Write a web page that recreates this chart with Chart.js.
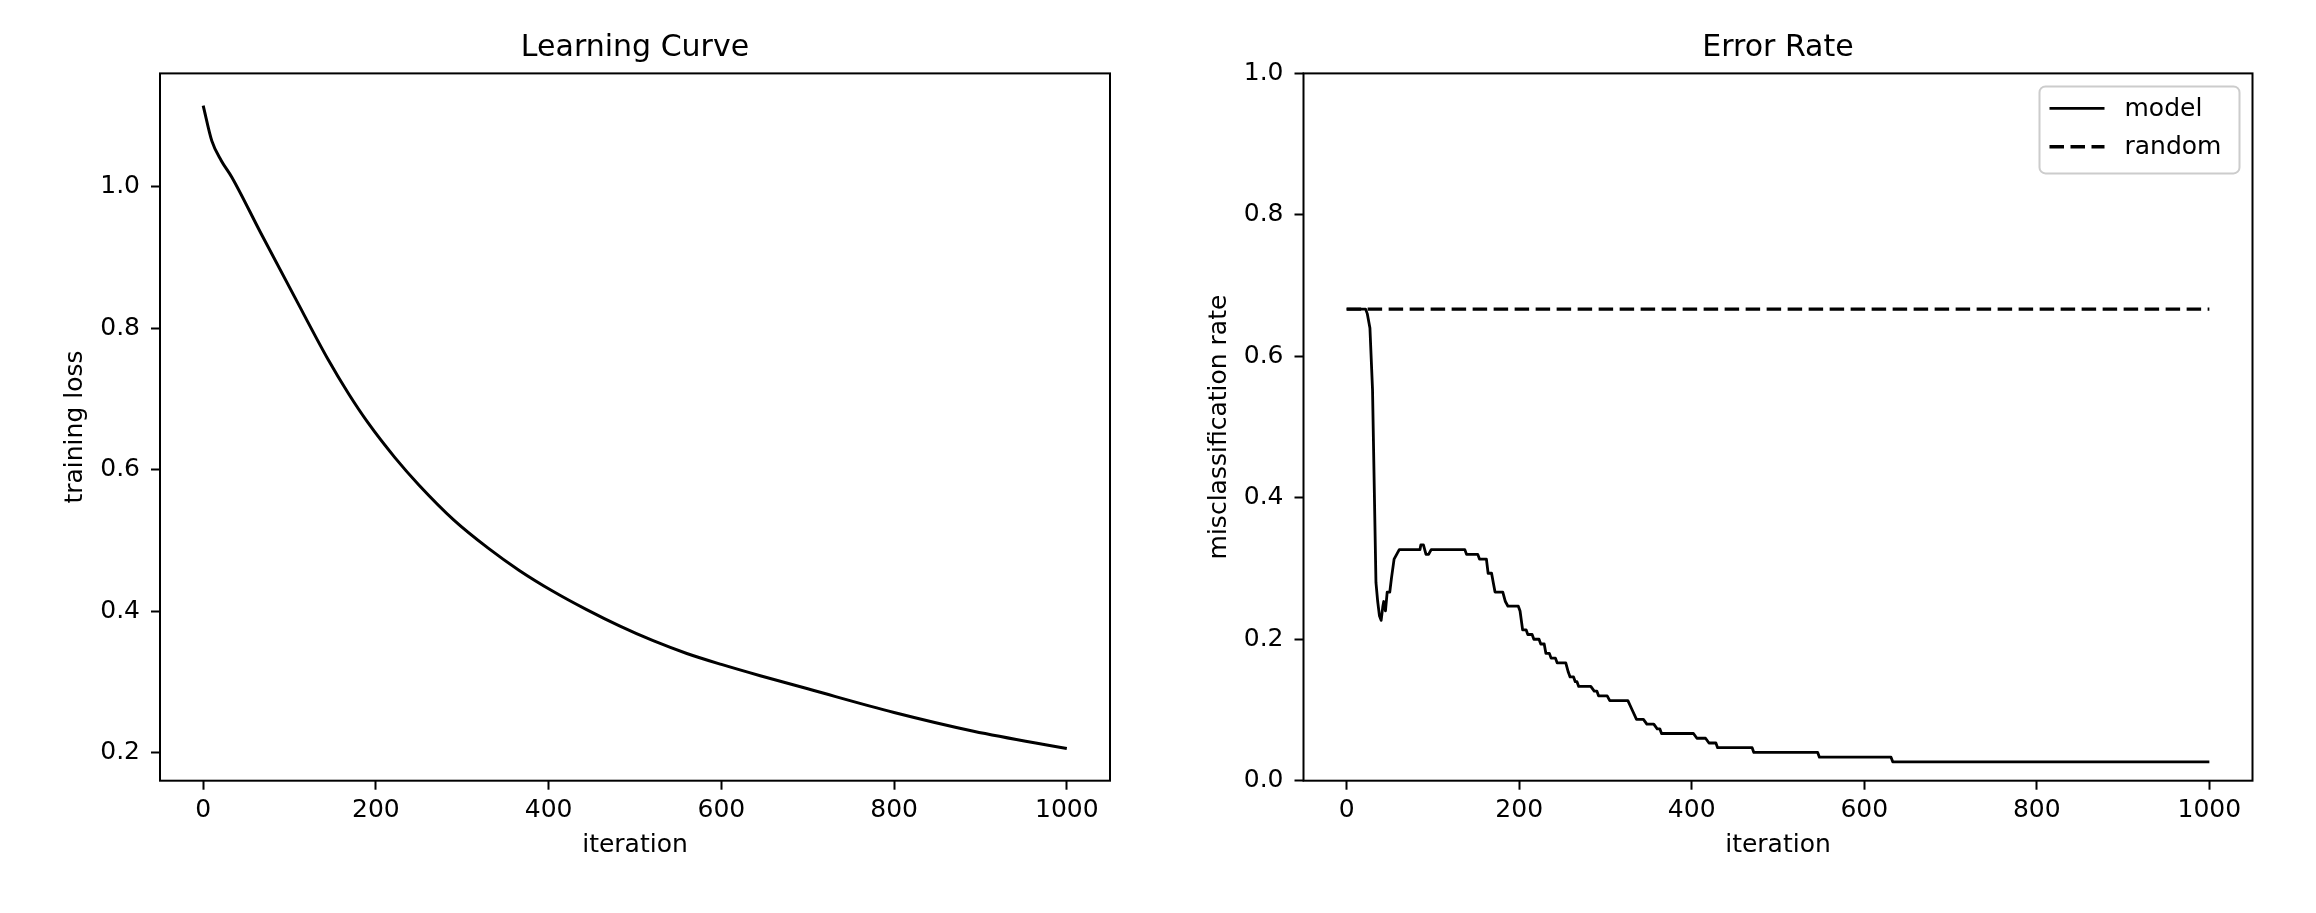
<!DOCTYPE html>
<html><head><meta charset="utf-8">
<script src="https://cdn.jsdelivr.net/npm/chart.js@4"></script>
<style>
html,body{margin:0;padding:0;background:#fff;overflow:hidden;width:2316px;height:913px;}
canvas{position:absolute;top:0;}
#c1{left:0;} #c2{left:1160px;}
</style></head><body>
<canvas id="c1" width="1160" height="913"></canvas>
<canvas id="c2" width="1156" height="913"></canvas>
<script>
// ---- data ----
const lossIter  = [0, 10, 21, 33, 67, 106, 145, 168, 191, 222, 250, 290, 330, 366, 405, 444, 482, 521, 560, 600, 645, 700, 800, 892, 1000];
const lossValue = [1.115, 1.065, 1.037, 1.014, 0.934, 0.844, 0.755, 0.708, 0.666, 0.617, 0.578, 0.529, 0.489, 0.4575, 0.428, 0.402, 0.379, 0.358, 0.340, 0.3245, 0.3085, 0.2900, 0.2565, 0.230, 0.2055];

const modelIter = [0, 22, 24, 27, 30, 34, 36, 38, 40, 42, 43, 45, 47, 50, 52, 55, 58, 61, 85, 86, 89, 92, 95, 98, 137, 139, 152, 154, 162, 164, 168, 170, 172, 181, 184, 187, 199, 201, 202, 204, 208, 210, 215, 217, 223, 225, 229, 231, 235, 237, 242, 244, 254, 257, 259, 263, 265, 267, 269, 283, 287, 290, 292, 302, 305, 326, 331, 336, 344, 348, 356, 360, 363, 365, 402, 406, 416, 420, 428, 430, 470, 472, 546, 548, 631, 633, 1000];
const modelRate = [0.6667, 0.6667, 0.66, 0.64, 0.5533, 0.28, 0.2533, 0.2333, 0.2267, 0.2467, 0.2533, 0.24, 0.2667, 0.2667, 0.2867, 0.3133, 0.32, 0.3267, 0.3267, 0.3333, 0.3333, 0.32, 0.32, 0.3267, 0.3267, 0.32, 0.32, 0.3133, 0.3133, 0.2933, 0.2933, 0.28, 0.2667, 0.2667, 0.2533, 0.2467, 0.2467, 0.24, 0.24, 0.2133, 0.2133, 0.2067, 0.2067, 0.2, 0.2, 0.1933, 0.1933, 0.18, 0.18, 0.1733, 0.1733, 0.1667, 0.1667, 0.1533, 0.1467, 0.1467, 0.14, 0.14, 0.1333, 0.1333, 0.1267, 0.1267, 0.12, 0.12, 0.1133, 0.1133, 0.10, 0.0867, 0.0867, 0.08, 0.08, 0.0733, 0.0733, 0.0667, 0.0667, 0.06, 0.06, 0.0533, 0.0533, 0.0467, 0.0467, 0.04, 0.04, 0.0333, 0.0333, 0.0267, 0.0267];

const randomIter = [0, 1000];
const randomRate = [0.6667, 0.6667];

const xTicks    = [0, 200, 400, 600, 800, 1000];
const lossTicks = [0.2, 0.4, 0.6, 0.8, 1.0];
const rateTicks = [0.0, 0.2, 0.4, 0.6, 0.8, 1.0];

const chartTitles = ['Learning Curve', 'Error Rate'];
const xLabel = 'iteration';
const yLabels = ['training loss', 'misclassification rate'];
const seriesLabels = ['model', 'random'];

// ---- helpers ----
const pts = (xs, ys) => xs.map((x, i) => ({x: x, y: ys[i]}));
Chart.defaults.font.family = '"DejaVu Sans", sans-serif';
Chart.defaults.color = '#000';

const gridCfg = {display: true, drawOnChartArea: false, drawTicks: true, tickLength: 9, tickWidth: 2, tickColor: '#000'};

function xScale() {
  return {
    type: 'linear', min: -50, max: 1050,
    afterBuildTicks: s => { s.ticks = xTicks.map(v => ({value: v})); },
    afterFit: s => { s.height = 913 - 780.7; },
    ticks: {autoSkip: false, maxRotation: 0, padding: 6, color: '#000', font: {size: 25}, callback: v => String(v)},
    grid: gridCfg,
    border: {display: false},
    title: {display: true, text: xLabel, color: '#000', font: {size: 25}, padding: {top: 0, bottom: 52.6}}
  };
}
function yScale(min, max, ticks, label, width, titlePad) {
  return {
    type: 'linear', min: min, max: max,
    afterBuildTicks: s => { s.ticks = ticks.map(v => ({value: v})); },
    afterFit: s => { s.width = width; },
    ticks: {autoSkip: false, padding: 11, color: '#000', font: {size: 25}, callback: v => Number(v).toFixed(1)},
    grid: gridCfg,
    border: {display: false},
    title: {display: true, text: label, color: '#000', font: {size: 25}, padding: {top: titlePad, bottom: 0}}
  };
}
function titleCfg(text) {
  return {display: true, text: text, fullSize: false, color: '#000',
          font: {size: 30, weight: 'normal'}, padding: {top: 29.9, bottom: 7.5}};
}

const framePlugin = {
  id: 'frame',
  afterDatasetsDraw(chart) {
    const {ctx, chartArea: a} = chart;
    ctx.save();
    ctx.strokeStyle = '#000'; ctx.lineWidth = 2;
    ctx.strokeRect(a.left, a.top, a.right - a.left, a.bottom - a.top);
    ctx.restore();
  }
};

const legendPlugin = {
  id: 'mplLegend',
  afterDraw(chart) {
    const {ctx, chartArea: a} = chart;
    const w = 200, h = 87;
    const right = a.right - 13, top = a.top + 13, left = right - w;
    ctx.save();
    ctx.beginPath();
    ctx.roundRect(left, top, w, h, 6);
    ctx.fillStyle = 'rgba(255,255,255,0.8)'; ctx.fill();
    ctx.strokeStyle = '#cccccc'; ctx.lineWidth = 2; ctx.stroke();
    chart.data.datasets.forEach((ds, i) => {
      const y = top + 22 + i * 38.3;
      ctx.beginPath();
      ctx.setLineDash(ds.borderDash || []);
      ctx.lineWidth = ds.borderWidth; ctx.strokeStyle = ds.borderColor;
      ctx.moveTo(left + 10, y); ctx.lineTo(left + 65, y); ctx.stroke();
      ctx.setLineDash([]);
      ctx.fillStyle = '#000'; ctx.font = '25px "DejaVu Sans"';
      ctx.textBaseline = 'middle'; ctx.textAlign = 'left';
      ctx.fillText(ds.label, left + 85, y + 1);
    });
    ctx.restore();
  }
};

// matplotlib-like 5% autoscale margin for the loss axis
const lMin = Math.min(...lossValue), lMax = Math.max(...lossValue);
const lPad = (lMax - lMin) * 0.05;

new Chart(document.getElementById('c1'), {
  type: 'line',
  data: {datasets: [{
    label: 'loss', data: pts(lossIter, lossValue),
    borderColor: '#000', borderWidth: 3.0, pointRadius: 0, fill: false,
    borderJoinStyle: 'round', cubicInterpolationMode: 'monotone'
  }]},
  options: {
    responsive: false, animation: false,
    layout: {padding: {left: 0, right: 50, top: 0, bottom: 0}},
    plugins: {legend: {display: false}, tooltip: {enabled: false}, title: titleCfg(chartTitles[0])},
    scales: {
      x: xScale(),
      y: yScale(lMin - lPad, lMax + lPad, lossTicks, yLabels[0], 160, 60.3)
    }
  },
  plugins: [framePlugin]
});

new Chart(document.getElementById('c2'), {
  type: 'line',
  data: {datasets: [
    {label: seriesLabels[0], data: pts(modelIter, modelRate),
     borderColor: '#000', borderWidth: 2.8, borderJoinStyle: 'round', pointRadius: 0, fill: false},
    {label: seriesLabels[1], data: pts(randomIter, randomRate),
     borderColor: '#000', borderWidth: 3.4, borderDash: [14.5, 6.5], pointRadius: 0, fill: false}
  ]},
  options: {
    responsive: false, animation: false,
    layout: {padding: {left: 0, right: 63.5, top: 0, bottom: 0}},
    plugins: {legend: {display: false}, tooltip: {enabled: false}, title: titleCfg(chartTitles[1])},
    scales: {
      x: xScale(),
      y: yScale(0, 1, rateTicks, yLabels[1], 143.5, 44.6)
    }
  },
  plugins: [framePlugin, legendPlugin]
});
</script>
</body></html>
